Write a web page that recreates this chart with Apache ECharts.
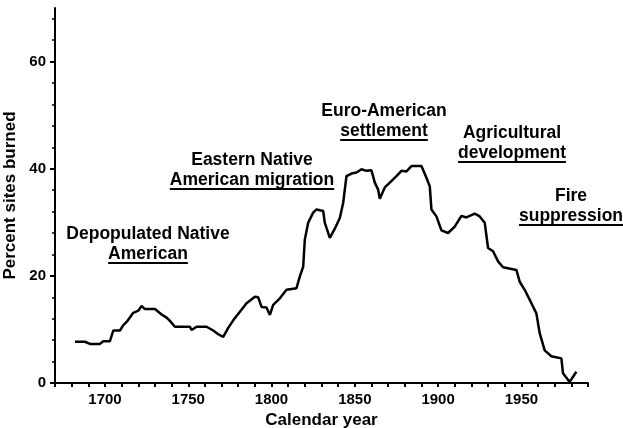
<!DOCTYPE html>
<html>
<head>
<meta charset="utf-8">
<script src="https://cdn.jsdelivr.net/npm/echarts@6/dist/echarts.min.js"></script>
<style>
  html, body { margin: 0; padding: 0; background: #fff; }
  #chart { width: 623px; height: 428px; }
</style>
</head>
<body>
<div id="chart"></div>
<script>
// percent of sites burned, by calendar year
var years = [1682, 1688, 1691, 1697, 1699, 1703, 1705, 1709, 1711, 1713, 1717, 1720, 1722, 1724,
  1730, 1734, 1737, 1739, 1742, 1751, 1752, 1755, 1761, 1765, 1768, 1771, 1774, 1777, 1781, 1785,
  1790, 1792, 1794, 1797, 1799, 1801, 1805, 1809, 1815, 1817, 1819, 1820, 1822, 1825, 1827, 1831,
  1832, 1835, 1838, 1841, 1843, 1845, 1848, 1851, 1854, 1857, 1860, 1862, 1864, 1865, 1868, 1871,
  1875, 1878, 1881, 1884, 1890, 1893, 1895, 1896, 1899, 1902, 1906, 1910, 1914, 1917, 1922, 1925,
  1928, 1930, 1933, 1936, 1939, 1947, 1949, 1952, 1956, 1959, 1961, 1964, 1968, 1974, 1975, 1979, 1983];
var burned = [7.7, 7.7, 7.3, 7.3, 7.8, 7.8, 9.8, 9.8, 10.8, 11.4, 13.1, 13.5, 14.4, 13.8,
  13.8, 12.8, 12.2, 11.6, 10.5, 10.5, 9.9, 10.5, 10.5, 9.8, 9.1, 8.6, 10.3, 11.7, 13.3, 14.9,
  16.1, 16.0, 14.2, 14.1, 12.7, 14.6, 15.8, 17.4, 17.7, 19.9, 21.7, 26.8, 29.9, 31.8, 32.4, 32.1,
  29.9, 27.1, 28.8, 30.8, 33.6, 38.6, 39.1, 39.3, 39.9, 39.6, 39.7, 37.4, 36.1, 34.4, 36.5, 37.4,
  38.6, 39.6, 39.5, 40.5, 40.5, 38.3, 36.7, 32.4, 31.1, 28.5, 28.0, 29.2, 31.2, 30.9, 31.6, 31.1,
  29.9, 25.2, 24.6, 22.7, 21.6, 21.1, 18.9, 17.4, 14.9, 13.0, 9.3, 6.1, 5.0, 4.6, 1.8, 0.2, 2.1];

var yLabels = [0, 20, 40, 60];
var yMinor = [4, 8, 12, 16, 24, 28, 32, 36, 44, 48, 52, 56, 64, 68];

var periods = [
  { top: 'Depopulated Native', bottom: 'American', x: 148, y: 234 },
  { top: 'Eastern Native', bottom: 'American migration', x: 252, y: 160 },
  { top: 'Euro-American', bottom: 'settlement', x: 384, y: 111 },
  { top: 'Agricultural', bottom: 'development', x: 512, y: 133 },
  { top: 'Fire', bottom: 'suppression', x: 571, y: 196 }
];

var FONT = '"Liberation Sans", Arial, sans-serif';
var labelFont = 'bold 17.5px ' + FONT;

var ctx = document.createElement('canvas').getContext('2d');
ctx.font = labelFont;

var graphics = [];
periods.forEach(function (p) {
  var w = ctx.measureText(p.bottom).width;
  graphics.push({
    type: 'text', x: p.x, y: p.y,
    style: { text: p.top, font: labelFont, fill: '#000', textAlign: 'center', textVerticalAlign: 'middle' }
  });
  graphics.push({
    type: 'text', x: p.x, y: p.y + 20,
    style: { text: p.bottom, font: labelFont, fill: '#000', textAlign: 'center', textVerticalAlign: 'middle' }
  });
  graphics.push({
    type: 'rect',
    shape: { x: p.x - w / 2, y: p.y + 28, width: w, height: 2 },
    style: { fill: '#000' }
  });
});

var data = years.map(function (y, i) { return [y, burned[i]]; });

var chart = echarts.init(document.getElementById('chart'), null, { renderer: 'canvas' });
chart.setOption({
  animation: false,
  backgroundColor: '#fff',
  grid: { left: 55, right: 35, top: 8, bottom: 45, outerBoundsMode: 'none', containLabel: false },
  xAxis: {
    type: 'value',
    min: 1670,
    max: 1990,
    interval: 10,
    name: 'Calendar year',
    nameLocation: 'middle',
    nameGap: 25,
    nameTextStyle: { color: '#000', fontWeight: 'bold', fontSize: 17, fontFamily: FONT },
    axisLine: { lineStyle: { color: '#000', width: 2 } },
    axisTick: { show: true, length: 4, lineStyle: { color: '#000', width: 2 } },
    axisLabel: {
      color: '#000', fontWeight: 'bold', fontSize: 15, fontFamily: FONT, margin: 9,
      formatter: function (v) { return v % 50 === 0 ? String(v) : ''; }
    },
    splitLine: { show: false }
  },
  yAxis: [{
    type: 'value',
    min: 0,
    max: 70,
    name: 'Percent sites burned',
    nameLocation: 'middle',
    nameGap: 29,
    nameTextStyle: { color: '#000', fontWeight: 'bold', fontSize: 17, fontFamily: FONT },
    axisLine: { show: true, lineStyle: { color: '#000', width: 2 } },
    axisTick: { show: true, length: 5, customValues: yLabels, lineStyle: { color: '#000', width: 2 } },
    axisLabel: {
      color: '#000', fontWeight: 'bold', fontSize: 15, fontFamily: FONT, margin: 9,
      customValues: yLabels
    },
    splitLine: { show: false }
  }, {
    type: 'value',
    min: 0,
    max: 70,
    position: 'left',
    axisLine: { show: false },
    axisTick: { show: true, length: 3, customValues: yMinor, lineStyle: { color: '#000', width: 1.5 } },
    axisLabel: { show: false },
    splitLine: { show: false }
  }],
  series: [{
    type: 'line',
    data: data,
    showSymbol: false,
    lineStyle: { color: '#000', width: 2.5 },
    z: 3
  }],
  graphic: graphics
});
</script>
</body>
</html>
